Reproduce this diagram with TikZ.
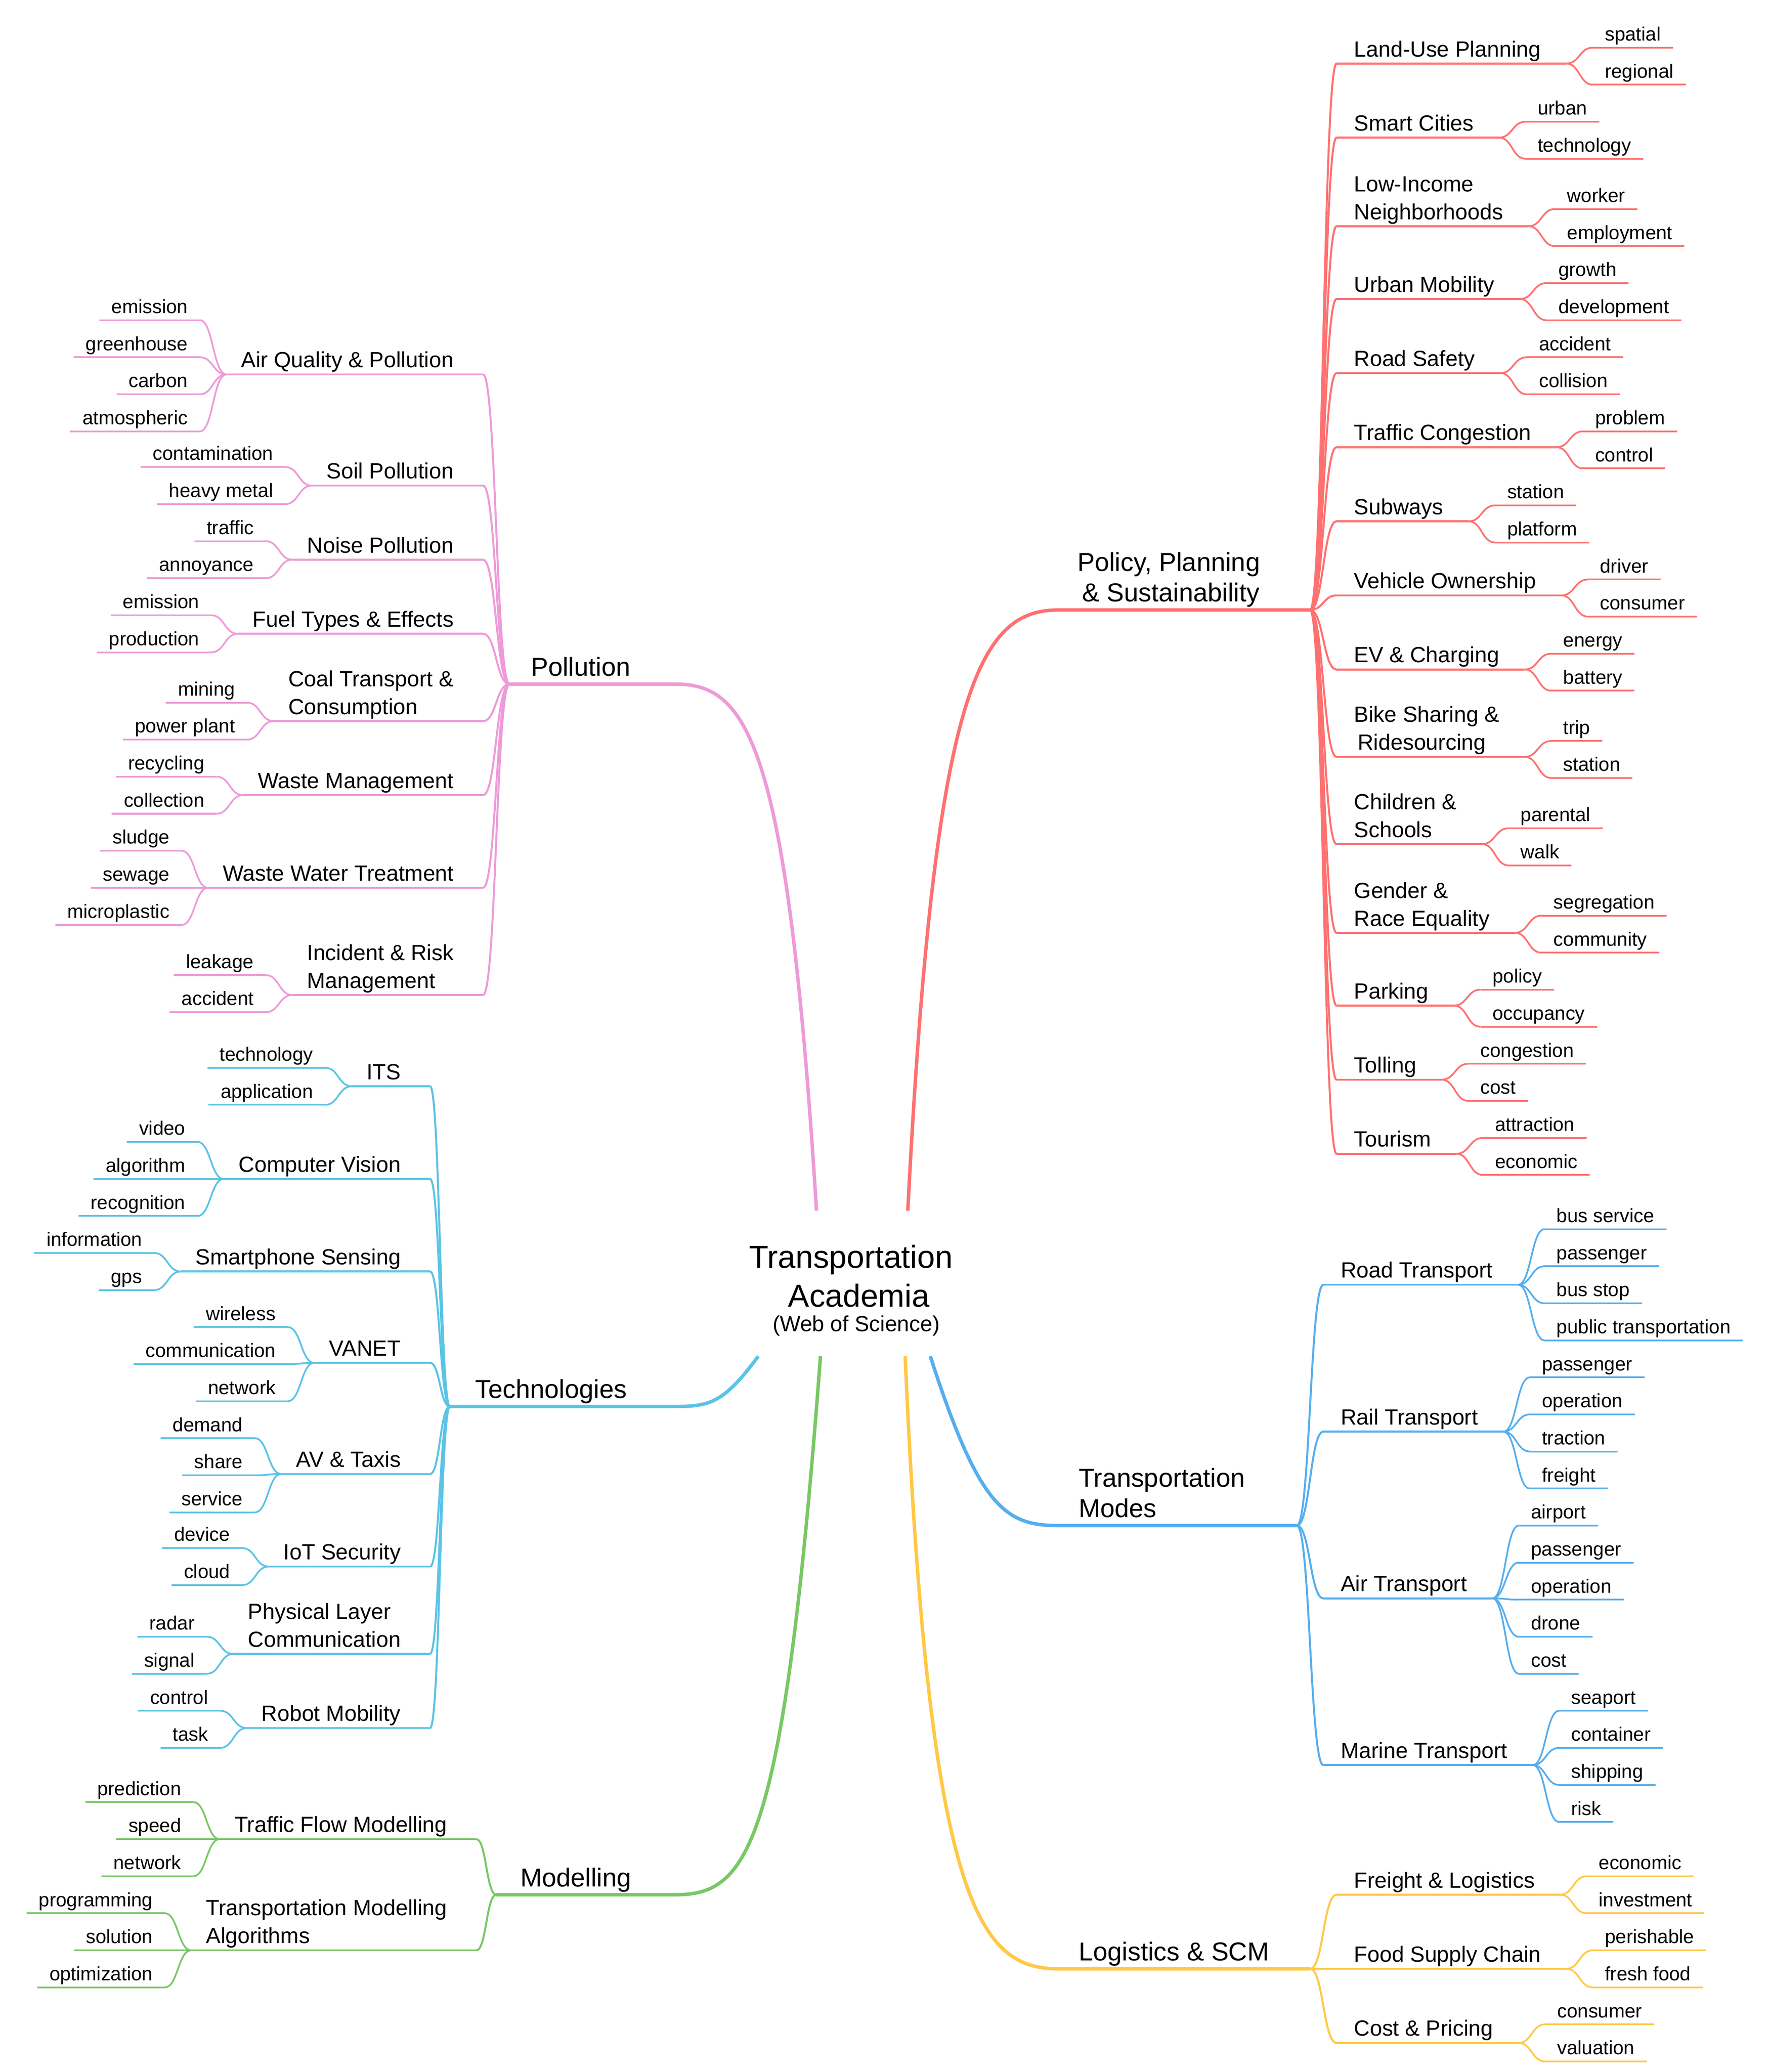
\documentclass[tikz,border=0pt]{standalone}
\usepackage{fontspec}
\setmainfont{Liberation Sans}
\usetikzlibrary{calc}
\definecolor{cpol}{HTML}{FF7070}
\definecolor{cpoll}{HTML}{EE9AD8}
\definecolor{ctech}{HTML}{5BC3E5}
\definecolor{cmod}{HTML}{78C864}
\definecolor{cmode}{HTML}{55AEEE}
\definecolor{clog}{HTML}{FFC846}
\tikzset{
 lab/.style={inner sep=0pt,font=\fontsize{16.6}{21}\selectfont,align=left,text depth=3pt},
 leaf/.style={inner sep=0pt,font=\fontsize{14.6}{17}\selectfont,text depth=3pt},
 mainlab/.style={inner sep=0pt,font=\fontsize{19.6}{23}\selectfont,text depth=3pt},
 topic/.style={line width=1.5pt},
 leafl/.style={line width=1.3pt},
 mainl/.style={line width=2.6pt}
}
\newcommand\conn[3]{\draw[#1] (#2) .. controls ($(#2)!0.5!(#2 -| #3)$) and ($(#3)!0.5!(#3 -| #2)$) .. (#3);}
\newcommand\TR[6]{%
 \coordinate (#1-s) at (#4,#5);
 \node[lab,anchor=south west] (#1) at ($(#1-s)+(13,-2)$) {#6};
 \coordinate (#1-e) at ($(#1-s -| #1.south east)+(19,0)$);
 \conn{#2,topic}{#3}{#1-s}
 \draw[#2,topic] (#1-s) -- (#1-e);}
\newcommand\TL[6]{%
 \coordinate (#1-s) at (#4,#5);
 \node[lab,anchor=south east] (#1) at ($(#1-s)+(-22,-2)$) {#6};
 \coordinate (#1-e) at ($(#1-s -| #1.south west)+(-11,0)$);
 \conn{#2,topic}{#3}{#1-s}
 \draw[#2,topic] (#1-s) -- (#1-e);}
\newcommand\LR[5]{%
 \coordinate (#1-y) at (0,#4);
 \coordinate (#1-s) at ($(#3-e |- #1-y)+(20,0)$);
 \node[leaf,anchor=south west] (#1) at ($(#1-s)+(9,-2)$) {#5};
 \coordinate (#1-e) at ($(#1-s -| #1.south east)+(9,0)$);
 \conn{#2,leafl}{#3-e}{#1-s}
 \draw[#2,leafl] (#1-s) -- (#1-e);}
\newcommand\LL[5]{%
 \coordinate (#1-y) at (0,#4);
 \coordinate (#1-s) at ($(#3-e |- #1-y)+(-20,0)$);
 \node[leaf,anchor=south east] (#1) at ($(#1-s)+(-9,-2)$) {#5};
 \coordinate (#1-e) at ($(#1-s -| #1.south west)+(-9,0)$);
 \conn{#2,leafl}{#3-e}{#1-s}
 \draw[#2,leafl] (#1-s) -- (#1-e);}
\newcommand\mainb[6]{%
 \draw[#1,mainl] (#2) .. controls (#3) and (#4) .. (#5) -- (#6);}
\begin{document}
\begin{tikzpicture}[x=1pt,y=-1pt]
\useasboundingbox (0,0) rectangle (1336,1566);
\node[inner sep=0pt,font=\fontsize{24}{28}\selectfont] (c1) at (643,952) {Transportation};
\node[inner sep=0pt,font=\fontsize{24}{28}\selectfont] (c2) at (649,979) {Academia};
\node[inner sep=0pt,font=\fontsize{16.5}{19}\selectfont] (c3) at (647,1002) {(Web of Science)};
\coordinate (P0) at (686,915); \coordinate (P1) at (800,461); \coordinate (P2) at (990,461);
\coordinate (L0) at (617,915); \coordinate (L1) at (510,517); \coordinate (L2) at (385,517);
\coordinate (T0) at (573,1025); \coordinate (T1) at (505,1063); \coordinate (T2) at (340,1063);
\coordinate (M0) at (620,1025); \coordinate (M1) at (510,1432); \coordinate (M2) at (375,1432);
\coordinate (D0) at (703,1025); \coordinate (D1) at (800,1153); \coordinate (D2) at (980,1153);
\coordinate (G0) at (684,1025); \coordinate (G1) at (800,1488); \coordinate (G2) at (990,1488);
\mainb{cpol}{P0}{706,520}{740,461}{P1}{P2}
\mainb{cpoll}{L0}{595,560}{565,517}{L1}{L2}
\mainb{ctech}{T0}{545,1063}{535,1063}{T1}{T2}
\mainb{cmod}{M0}{592,1400}{565,1432}{M1}{M2}
\mainb{cmode}{D0}{740,1140}{760,1153}{D1}{D2}
\mainb{clog}{G0}{702,1440}{740,1488}{G1}{G2}
\node[mainlab,anchor=south west,align=center] (Pl) at (814,458) {Policy, Planning\\\,\& Sustainability};
\node[mainlab,anchor=south west] (Ll) at (401,514) {Pollution};
\node[mainlab,anchor=south west] (Tl) at (359,1060) {Technologies};
\node[mainlab,anchor=south west] (Ml) at (393,1429) {Modelling};
\node[mainlab,anchor=south west,align=left] (Dl) at (815,1150) {Transportation\\Modes};
\node[mainlab,anchor=south west] (Gl) at (815,1485) {Logistics \& SCM};
% Policy
\TR{a1}{cpol}{P2}{1010}{48}{Land-Use Planning}
\LR{a1a}{cpol}{a1}{36}{spatial}\LR{a1b}{cpol}{a1}{64}{regional}
\TR{a2}{cpol}{P2}{1010}{104}{Smart Cities}
\LR{a2a}{cpol}{a2}{92}{urban}\LR{a2b}{cpol}{a2}{120}{technology}
\TR{a3}{cpol}{P2}{1010}{171}{Low-Income\\Neighborhoods}
\LR{a3a}{cpol}{a3}{158}{worker}\LR{a3b}{cpol}{a3}{186}{employment}
\TR{a4}{cpol}{P2}{1010}{226}{Urban Mobility}
\LR{a4a}{cpol}{a4}{214}{growth}\LR{a4b}{cpol}{a4}{242}{development}
\TR{a5}{cpol}{P2}{1010}{282}{Road Safety}
\LR{a5a}{cpol}{a5}{270}{accident}\LR{a5b}{cpol}{a5}{298}{collision}
\TR{a6}{cpol}{P2}{1010}{338}{Traffic Congestion}
\LR{a6a}{cpol}{a6}{326}{problem}\LR{a6b}{cpol}{a6}{354}{control}
\TR{a7}{cpol}{P2}{1010}{394}{Subways}
\LR{a7a}{cpol}{a7}{382}{station}\LR{a7b}{cpol}{a7}{410}{platform}
\TR{a8}{cpol}{P2}{1010}{450}{Vehicle Ownership}
\LR{a8a}{cpol}{a8}{438}{driver}\LR{a8b}{cpol}{a8}{466}{consumer}
\TR{a9}{cpol}{P2}{1010}{506}{EV \& Charging}
\LR{a9a}{cpol}{a9}{494}{energy}\LR{a9b}{cpol}{a9}{522}{battery}
\TR{a10}{cpol}{P2}{1010}{572}{Bike Sharing \&\\\,Ridesourcing}
\LR{a10a}{cpol}{a10}{560}{trip}\LR{a10b}{cpol}{a10}{588}{station}
\TR{a11}{cpol}{P2}{1010}{638}{Children \&\\Schools}
\LR{a11a}{cpol}{a11}{626}{parental}\LR{a11b}{cpol}{a11}{654}{walk}
\TR{a12}{cpol}{P2}{1010}{705}{Gender \&\\Race Equality}
\LR{a12a}{cpol}{a12}{692}{segregation}\LR{a12b}{cpol}{a12}{720}{community}
\TR{a13}{cpol}{P2}{1010}{760}{Parking}
\LR{a13a}{cpol}{a13}{748}{policy}\LR{a13b}{cpol}{a13}{776}{occupancy}
\TR{a14}{cpol}{P2}{1010}{816}{Tolling}
\LR{a14a}{cpol}{a14}{804}{congestion}\LR{a14b}{cpol}{a14}{832}{cost}
\TR{a15}{cpol}{P2}{1010}{872}{Tourism}
\LR{a15a}{cpol}{a15}{860}{attraction}\LR{a15b}{cpol}{a15}{888}{economic}
% Pollution
\TL{b1}{cpoll}{L2}{365}{283}{Air Quality \& Pollution}
\LL{b1a}{cpoll}{b1}{242}{emission}\LL{b1b}{cpoll}{b1}{270}{greenhouse}
\LL{b1c}{cpoll}{b1}{298}{carbon}\LL{b1d}{cpoll}{b1}{326}{atmospheric}
\TL{b2}{cpoll}{L2}{365}{367}{Soil Pollution}
\LL{b2a}{cpoll}{b2}{353}{contamination}\LL{b2b}{cpoll}{b2}{381}{heavy metal}
\TL{b3}{cpoll}{L2}{365}{423}{Noise Pollution}
\LL{b3a}{cpoll}{b3}{409}{traffic}\LL{b3b}{cpoll}{b3}{437}{annoyance}
\TL{b4}{cpoll}{L2}{365}{479}{Fuel Types \& Effects}
\LL{b4a}{cpoll}{b4}{465}{emission}\LL{b4b}{cpoll}{b4}{493}{production}
\TL{b5}{cpoll}{L2}{365}{545}{Coal Transport \&\\Consumption}
\LL{b5a}{cpoll}{b5}{531}{mining}\LL{b5b}{cpoll}{b5}{559}{power plant}
\TL{b6}{cpoll}{L2}{365}{601}{Waste Management}
\LL{b6a}{cpoll}{b6}{587}{recycling}\LL{b6b}{cpoll}{b6}{615}{collection}
\TL{b7}{cpoll}{L2}{365}{671}{Waste Water Treatment}
\LL{b7a}{cpoll}{b7}{643}{sludge}\LL{b7b}{cpoll}{b7}{671}{sewage}\LL{b7c}{cpoll}{b7}{699}{microplastic}
\TL{b8}{cpoll}{L2}{365}{752}{Incident \& Risk\\Management}
\LL{b8a}{cpoll}{b8}{737}{leakage}\LL{b8b}{cpoll}{b8}{765}{accident}
% Technologies
\TL{t1}{ctech}{T2}{325}{821}{ITS}
\LL{t1a}{ctech}{t1}{807}{technology}\LL{t1b}{ctech}{t1}{835}{application}
\TL{t2}{ctech}{T2}{325}{891}{Computer Vision}
\LL{t2a}{ctech}{t2}{863}{video}\LL{t2b}{ctech}{t2}{891}{algorithm}\LL{t2c}{ctech}{t2}{919}{recognition}
\TL{t3}{ctech}{T2}{325}{961}{Smartphone Sensing}
\LL{t3a}{ctech}{t3}{947}{information}\LL{t3b}{ctech}{t3}{975}{gps}
\TL{t4}{ctech}{T2}{325}{1030}{VANET}
\LL{t4a}{ctech}{t4}{1003}{wireless}\LL{t4b}{ctech}{t4}{1031}{communication}\LL{t4c}{ctech}{t4}{1059}{network}
\TL{t5}{ctech}{T2}{325}{1114}{AV \& Taxis}
\LL{t5a}{ctech}{t5}{1087}{demand}\LL{t5b}{ctech}{t5}{1115}{share}\LL{t5c}{ctech}{t5}{1143}{service}
\TL{t6}{ctech}{T2}{325}{1184}{IoT Security}
\LL{t6a}{ctech}{t6}{1170}{device}\LL{t6b}{ctech}{t6}{1198}{cloud}
\TL{t7}{ctech}{T2}{325}{1250}{Physical Layer\\Communication}
\LL{t7a}{ctech}{t7}{1237}{radar}\LL{t7b}{ctech}{t7}{1265}{signal}
\TL{t8}{ctech}{T2}{325}{1306}{Robot Mobility}
\LL{t8a}{ctech}{t8}{1293}{control}\LL{t8b}{ctech}{t8}{1321}{task}
% Modelling
\TL{m1}{cmod}{M2}{360}{1390}{Traffic Flow Modelling}
\LL{m1a}{cmod}{m1}{1362}{prediction}\LL{m1b}{cmod}{m1}{1390}{speed}\LL{m1c}{cmod}{m1}{1418}{network}
\TL{m2}{cmod}{M2}{360}{1474}{Transportation Modelling\\Algorithms}
\LL{m2a}{cmod}{m2}{1446}{programming}\LL{m2b}{cmod}{m2}{1474}{solution}\LL{m2c}{cmod}{m2}{1502}{optimization}
% Modes
\TR{d1}{cmode}{D2}{1000}{971}{Road Transport}
\LR{d1a}{cmode}{d1}{929}{bus service}\LR{d1b}{cmode}{d1}{957}{passenger}
\LR{d1c}{cmode}{d1}{985}{bus stop}\LR{d1d}{cmode}{d1}{1013}{public transportation}
\TR{d2}{cmode}{D2}{1000}{1082}{Rail Transport}
\LR{d2a}{cmode}{d2}{1041}{passenger}\LR{d2b}{cmode}{d2}{1069}{operation}
\LR{d2c}{cmode}{d2}{1097}{traction}\LR{d2d}{cmode}{d2}{1125}{freight}
\TR{d3}{cmode}{D2}{1000}{1208}{Air Transport}
\LR{d3a}{cmode}{d3}{1153}{airport}\LR{d3b}{cmode}{d3}{1181}{passenger}
\LR{d3c}{cmode}{d3}{1209}{operation}\LR{d3d}{cmode}{d3}{1237}{drone}\LR{d3e}{cmode}{d3}{1265}{cost}
\TR{d4}{cmode}{D2}{1000}{1334}{Marine Transport}
\LR{d4a}{cmode}{d4}{1293}{seaport}\LR{d4b}{cmode}{d4}{1321}{container}
\LR{d4c}{cmode}{d4}{1349}{shipping}\LR{d4d}{cmode}{d4}{1377}{risk}
% Logistics
\TR{g1}{clog}{G2}{1010}{1432}{Freight \& Logistics}
\LR{g1a}{clog}{g1}{1418}{economic}\LR{g1b}{clog}{g1}{1446}{investment}
\TR{g2}{clog}{G2}{1010}{1488}{Food Supply Chain}
\LR{g2a}{clog}{g2}{1474}{perishable}\LR{g2b}{clog}{g2}{1502}{fresh food}
\TR{g3}{clog}{G2}{1010}{1544}{Cost \& Pricing}
\LR{g3a}{clog}{g3}{1530}{consumer}\LR{g3b}{clog}{g3}{1558}{valuation}
\end{tikzpicture}
\end{document}
